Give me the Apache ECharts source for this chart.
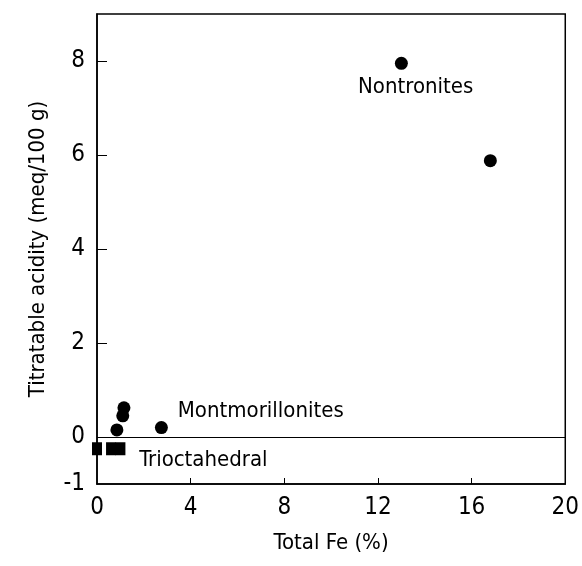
<!DOCTYPE html>
<html>
<head>
<meta charset="utf-8">
<script src="https://cdn.jsdelivr.net/npm/echarts@6/dist/echarts.min.js"></script>
<style>
  html, body { margin: 0; padding: 0; background: #fff; }
  #chart { width: 582px; height: 566px; }
</style>
</head>
<body>
<div id="chart"></div>
<script>
// data: [total Fe %, titratable acidity meq/100g]
var nontronites = [[13.0, 7.95], [16.8, 5.88]];
var montmorillonites = [[1.15, 0.62], [1.1, 0.45], [0.85, 0.15], [2.75, 0.2]];
var trioctahedral = [[0, -0.25], [0.6, -0.25], [1.0, -0.25]];
// group labels, placed at data coords (left edge of text)
var groupLabels = [
  { name: 'Nontronites', value: [11.15, 7.45] },
  { name: 'Montmorillonites', value: [3.45, 0.55] },
  { name: 'Trioctahedral', value: [1.8, -0.5] }
];
var xTicks = [0, 4, 8, 12, 16, 20];
var yTicks = [-1, 0, 2, 4, 6, 8];

var font = '"DejaVu Sans Condensed", "Liberation Sans", sans-serif';

var chart = echarts.init(document.getElementById('chart'));
chart.setOption({
  backgroundColor: '#fff',
  animation: false,
  grid: {
    left: 97, right: 13, top: 14, bottom: 82,
    show: true, borderColor: '#000', borderWidth: 1.5
  },
  xAxis: {
    type: 'value', min: 0, max: 20, interval: 4,
    name: 'Total Fe (%)', nameLocation: 'middle', nameGap: 48,
    nameTextStyle: { fontFamily: font, fontSize: 22, color: '#000' },
    axisLine: { show: true, onZero: false, lineStyle: { color: '#000', width: 1.5 } },
    axisTick: { show: true, inside: true, length: 6, lineStyle: { color: '#000' }, customValues: [4, 8, 12, 16] },
    axisLabel: { fontFamily: font, fontSize: 24, color: '#000', margin: 12, customValues: xTicks },
    splitLine: { show: false }
  },
  yAxis: {
    type: 'value', min: -1, max: 9, interval: 1,
    name: 'Titratable acidity (meq/100 g)', nameLocation: 'middle', nameGap: 48,
    nameTextStyle: { fontFamily: font, fontSize: 22, color: '#000' },
    axisLine: { show: true, onZero: false, lineStyle: { color: '#000', width: 1.5 } },
    axisTick: { show: true, inside: true, length: 10, lineStyle: { color: '#000' }, customValues: [2, 4, 6, 8] },
    axisLabel: { fontFamily: font, fontSize: 24, color: '#000', margin: 12, customValues: yTicks },
    splitLine: { show: false }
  },
  series: [
    {
      name: 'Nontronites', type: 'scatter', symbol: 'circle', symbolSize: 13,
      itemStyle: { color: '#000', opacity: 1 }, data: nontronites,
      markLine: {
        silent: true, symbol: 'none', label: { show: false },
        lineStyle: { color: '#000', width: 1.2, type: 'solid' },
        data: [{ yAxis: 0 }]
      }
    },
    {
      name: 'Montmorillonites', type: 'scatter', symbol: 'circle', symbolSize: 13,
      itemStyle: { color: '#000', opacity: 1 }, data: montmorillonites
    },
    {
      name: 'Trioctahedral', type: 'scatter', symbol: 'rect', symbolSize: [10, 13],
      itemStyle: { color: '#000', opacity: 1 }, data: trioctahedral
    },
    {
      name: 'labels', type: 'scatter', symbolSize: 0, silent: true,
      itemStyle: { opacity: 1 },
      data: groupLabels,
      label: {
        show: true, position: 'right', distance: 0,
        formatter: '{b}', fontFamily: font, fontSize: 22, color: '#000'
      }
    }
  ]
});
</script>
</body>
</html>
